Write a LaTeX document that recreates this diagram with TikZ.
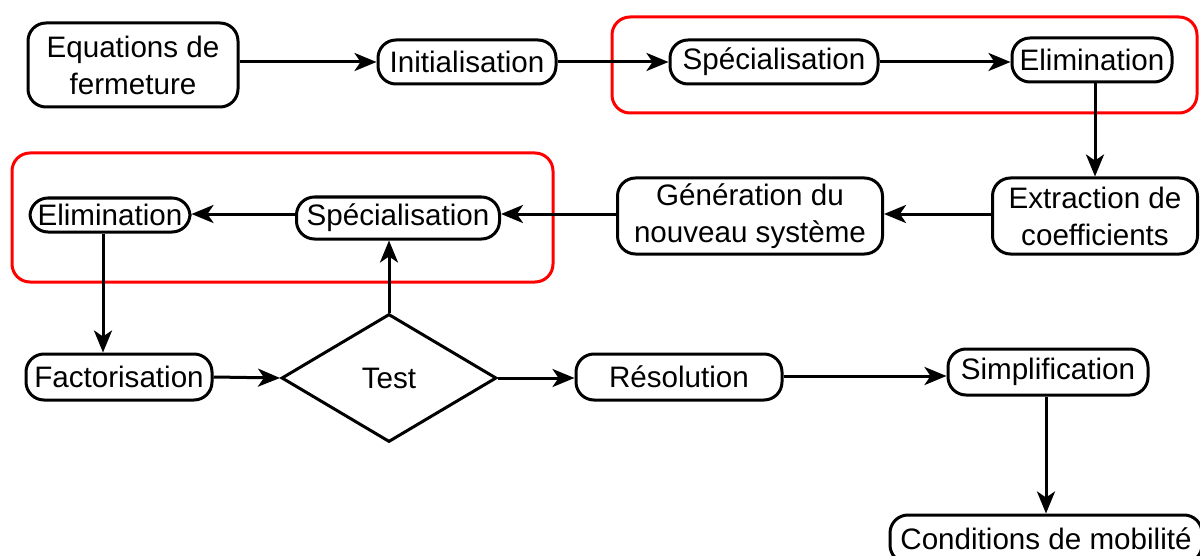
\documentclass[tikz,border=0pt]{standalone}
\usepackage{fontspec}
\setmainfont{Liberation Sans}
\usetikzlibrary{arrows.meta,shapes.geometric}
\begin{document}
\begin{tikzpicture}[x=0.5pt,y=-0.5pt,
  every node/.style={font=\fontsize{14.8pt}{18.5pt}\selectfont, inner sep=0pt, align=center},
  box/.style={draw, line width=1.5pt, rounded corners=9pt, rectangle},
  dec/.style={draw, line width=1.5pt, diamond, aspect=1.68, minimum width=107.5pt, minimum height=64pt},
  grp/.style={draw=red, line width=1.5pt, rounded corners=9pt},
  arr/.style={line width=1.5pt, -{Stealth[length=11pt,width=9pt,inset=3pt]}}]
\clip (0,0) rectangle (1200,556);
\fill[white] (0,0) rectangle (1200,556);
% red groups
\draw[grp] (612,17) rectangle (1197,113);
\draw[grp] (12,153) rectangle (553,282);
% nodes
\node[box, minimum width=105pt, minimum height=42pt] (eq) at (133,65) {Equations de\\fermeture};
\node[box, minimum width=89pt, minimum height=22pt] (init) at (467,62) {Initialisation};
\node[box, minimum width=104pt, minimum height=22pt] (spec1) at (774,62) {Spécialisation};
\node[box, minimum width=80pt, minimum height=22pt] (elim1) at (1092,60) {Elimination};
\node[box, minimum width=102.5pt, minimum height=38pt] (extr) at (1095,216) {Extraction de\\coefficients};
\node[box, minimum width=132.5pt, minimum height=38pt] (gen) at (750,216) {Génération du\\nouveau système};
\node[box, minimum width=101.5pt, minimum height=21pt] (spec2) at (398,218) {Spécialisation};
\node[box, minimum width=80pt, minimum height=17pt] (elim2) at (110,215) {Elimination};
\node[box, minimum width=93pt, minimum height=23pt] (fact) at (119,377) {Factorisation};
\node[dec] (test) at (389,378) {Test};
\node[box, minimum width=103pt, minimum height=23pt] (res) at (679,377) {Résolution};
\node[box, minimum width=100pt, minimum height=23pt] (simp) at (1048,372) {Simplification};
\node[box, minimum width=156pt, minimum height=24pt] (cond) at (1046,539) {Conditions de mobilité};
% connectors
\draw[arr] (eq.east |- init) -- (init.west);
\draw[arr] (init) -- (spec1);
\draw[arr] (spec1.east) -- (spec1.east -| elim1.west);
\draw[arr] (elim1.south -| extr.north) -- (extr.north);
\draw[arr] (extr.west |- 0,214) -- (gen.east |- 0,214);
\draw[arr] (gen.west |- 0,214) -- (spec2.east |- 0,214);
\draw[arr] (spec2.west |- 0,214) -- (elim2.east |- 0,214);
\coordinate (e2) at (103,232);
\draw[arr] (elim2.south -| e2) -- (fact.north -| e2);
\draw[arr] (fact.east) -- (test.west);
\draw[arr] (test.north) -- (test.north |- spec2.south);
\draw[arr] (test.east) -- (res.west |- test.east);
\draw[arr] (res.east |- 0,376) -- (simp.west |- 0,376);
\draw[arr] (simp.south -| cond.north) -- (cond.north);
\end{tikzpicture}
\end{document}
